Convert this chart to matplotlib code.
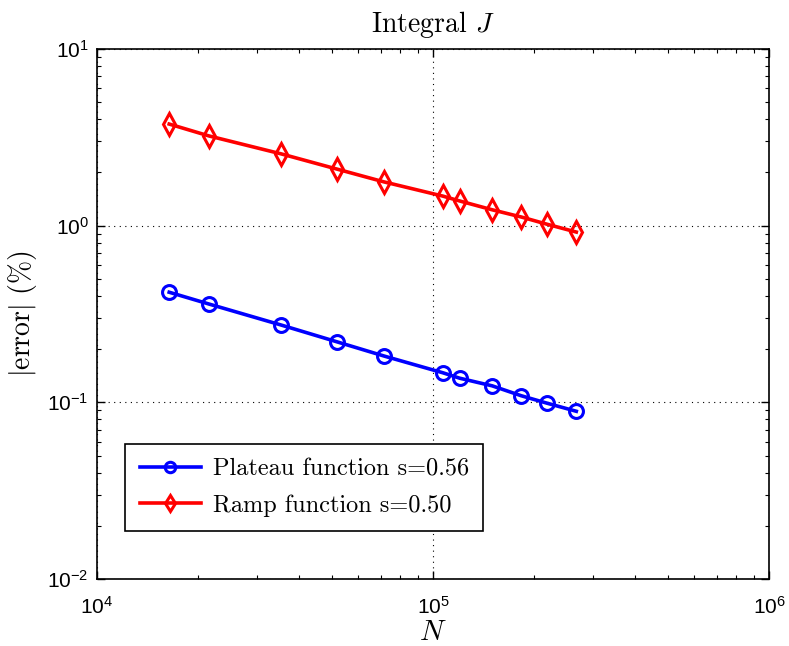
import numpy as np
import matplotlib.pyplot as plt

# values
N = [16400, 21550, 35300, 51800, 71400, 107000, 120000, 150000, 183000, 218000, 267000]
err_plateau = [0.42, 0.36, 0.274, 0.22, 0.183, 0.147, 0.137, 0.124, 0.109, 0.099, 0.089]
err_ramp = [3.76, 3.22, 2.55, 2.09, 1.77, 1.47, 1.38, 1.23, 1.12, 1.02, 0.92]
labels = ['Plateau function s=0.56', 'Ramp function s=0.50']

plt.rcParams['mathtext.fontset'] = 'cm'
plt.rcParams['font.family'] = ['Liberation Sans', 'DejaVu Sans']
plt.rcParams['axes.formatter.use_mathtext'] = False

fig = plt.figure(figsize=(7.89, 6.46), dpi=100)
ax = fig.add_axes([97/789, 1-579/646, 672/789, 530/646])

ax.loglog(N, err_plateau, '-o', color='#0000ff', lw=2.6, ms=10, mew=2.2,
          mfc='none', label=labels[0])
ax.loglog(N, err_ramp, '-d', color='#ff0000', lw=2.6, ms=11, mew=2.2,
          mfc='none', label=labels[1])

ax.set_xlim(1e4, 1e6)
ax.set_ylim(1e-2, 1e1)
ax.grid(True, which='major', ls=(0, (1, 4)), color='black', lw=0.8)

ax.tick_params(which='both', direction='in', top=True, right=True, labelsize=15)
ax.tick_params(which='major', length=6, width=1)
ax.tick_params(which='minor', length=3, width=0.8)
ax.tick_params(axis='x', pad=12)
ax.tick_params(axis='y', pad=6)
for s in ax.spines.values():
    s.set_linewidth(1.2)

cm = {'family': 'cmr10', 'size': 20}
ax.set_title(r'Integral $J$', fontdict=cm, pad=12)
ax.set_xlabel(r'$N$', fontsize=21, labelpad=0)
ax.set_ylabel(r'$|\mathrm{error}|\ (\%)$', fontsize=20, labelpad=6)

leg = ax.legend(loc='lower left', bbox_to_anchor=(0.042, 0.09), borderaxespad=0,
                prop={'family': 'cmr10', 'size': 17.5},
                fancybox=False, edgecolor='black', framealpha=1, handlelength=2.5,
                handletextpad=0.5, borderpad=0.6, labelspacing=0.55, markerscale=0.75)
leg.get_frame().set_linewidth(1.2)

fig.savefig('out.png', dpi=100)
